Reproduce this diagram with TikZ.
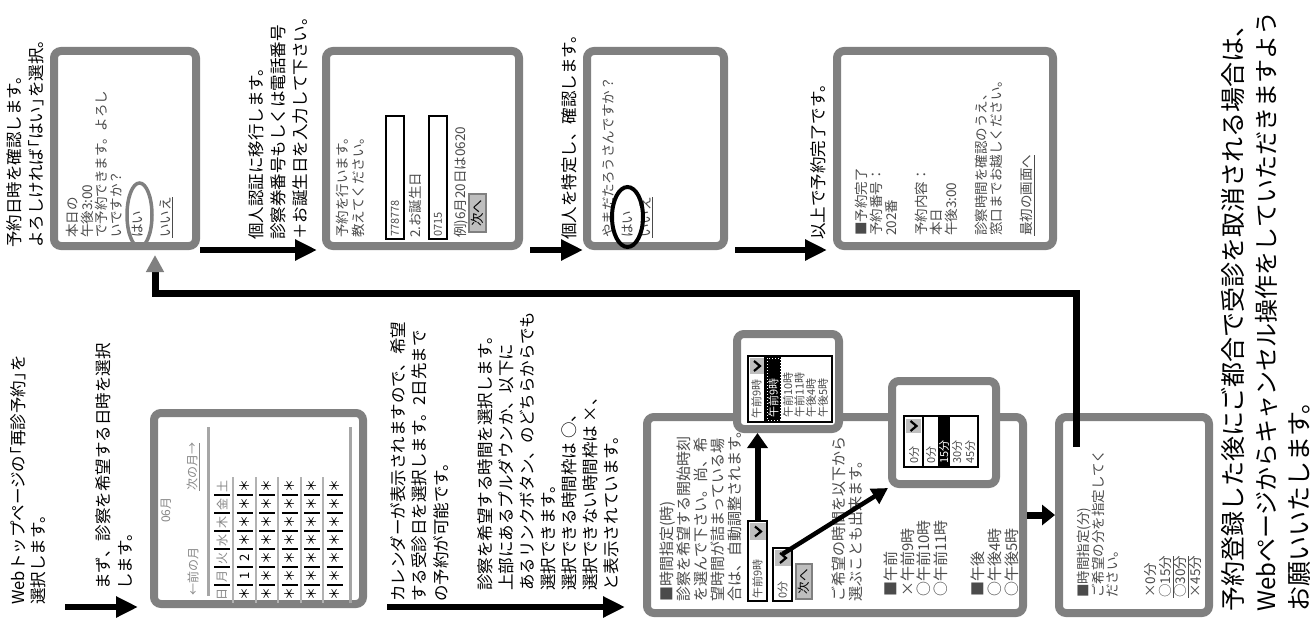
\documentclass[tikz,border=0pt]{standalone}
\usepackage{fontspec}
\setmainfont{Noto Sans CJK JP}
\usetikzlibrary{arrows.meta}
\definecolor{scrgray}{RGB}{128,128,128}
\definecolor{stext}{RGB}{75,75,75}
\definecolor{ltext}{RGB}{135,135,135}
\definecolor{btngray}{RGB}{190,190,190}
\newcommand{\lbr}{\hspace{-0.45em}「}
\newcommand{\rbr}{」\hspace{-0.45em}}
\newcommand{\chevr}[2]{\draw[line width=2.2pt] (#1-3,#2-5) -- (#1+3,#2) -- (#1-3,#2+5);}
\begin{document}
\begin{tikzpicture}[x=1pt,y=-1pt,
  screen/.style={draw=scrgray,line width=8pt,rounded corners=7pt,fill=white,inner sep=0pt,outer sep=4pt,anchor=north west},
  desc/.style={rotate=90,anchor=north west,inner sep=0pt,align=left,font=\fontsize{16.5}{22}\selectfont},
  big/.style={rotate=90,anchor=north west,inner sep=0pt,align=left,font=\fontsize{25}{33}\selectfont},
  stxt/.style={rotate=90,anchor=north west,inner sep=0pt,align=left,text=stext,font=\fontsize{13.5}{15}\selectfont},
  mtxt/.style={rotate=90,anchor=north west,inner sep=0pt,align=left,text=stext,font=\fontsize{15}{16.8}\selectfont},
  one/.style={rotate=90,anchor=west,inner sep=0pt,text=stext,font=\fontsize{13.5}{15}\selectfont},
  tiny/.style={rotate=90,anchor=west,inner sep=0pt,text=stext,font=\fontsize{11}{12}\selectfont},
  cal/.style={rotate=90,inner sep=0pt,text=ltext,font=\fontsize{12}{13}\selectfont},
  cell/.style={rotate=90,inner sep=0pt,text=black,font=\fontsize{13}{14}\selectfont},
  field/.style={draw=black,line width=2.2pt,fill=white,inner sep=0pt,outer sep=0pt,anchor=north west},
  listbox/.style={draw=black,line width=1.5pt,fill=white,inner sep=0pt,outer sep=0pt,anchor=north west},
  button/.style={draw=scrgray,line width=1.8pt,fill=btngray,inner sep=0pt,outer sep=0pt,anchor=north west},
  calline/.style={draw=black!35,line width=3pt},
  arr/.style={line width=6pt,-{Triangle[length=22pt,width=20pt]}},
  arrs/.style={line width=7pt,-{Triangle[length=13pt,width=20pt]}},
  parr/.style={line width=6pt,-{Triangle[length=15pt,width=20pt]}},
  darr/.style={line width=4.5pt,-{Triangle[length=16pt,width=17pt]}},
  ret/.style={line width=7pt,-{Triangle[length=17pt,width=17pt,color=scrgray]}}
]
\fill[white] (0,0) rectangle (1315,618);
\useasboundingbox (0,0) rectangle (1315,618);

% ---------- screens ----------
\node[screen,minimum width=142pt,minimum height=195pt] (b1) at (50,47) {};
\node[screen,minimum width=193pt,minimum height=195pt] (b2) at (322,47) {};
\node[screen,minimum width=137pt,minimum height=195pt] (b3) at (583,47) {};
\node[screen,minimum width=216pt,minimum height=195pt] (b4) at (833,47) {};
\node[screen,minimum width=209pt,minimum height=191pt] (b5) at (150,409) {};
\node[screen,minimum width=376pt,minimum height=196pt] (b6) at (643,413) {};
\node[screen,minimum width=150pt,minimum height=196pt] (b7) at (1055,413) {};

% ---------- descriptions ----------
\node[desc] (t1) at (6,248) {予約日時を確認します。\\よろしければ\lbr はい\rbr を選択。};
\node[desc] (t2) at (248,240) {個人認証に移行します。\\診察券番号もしくは電話番号\\＋お誕生日を入力して下さい。};
\node[desc] (t3) at (561,240) {個人を特定し、確認します。};
\node[desc] (t4) at (810,240) {以上で予約完了です。};
\node[desc,font=\fontsize{16.5}{20}\selectfont] (t5) at (10,605) {Webトップページの\lbr 再診予約\rbr を\\選択します。};
\node[desc] (t6) at (95,590) {まず、診察を希望する日時を選択\\します。};
\node[desc,font=\fontsize{16.5}{21.5}\selectfont] (t7) at (390,602) {カレンダーが表示されますので、希望\\する受診日を選択します。2日先まで\\の予約が可能です。};
\node[desc,font=\fontsize{16.5}{21}\selectfont] (t8) at (477,591) {診察を希望する時間を選択します。\\上部にあるプルダウンか、以下に\\あるリンクボタン、のどちらからでも\\選択できます。\\選択できる時間枠は ○、\\選択できない時間枠は ×、\\と表示されています。};
\node[big] (t9) at (1221,612) {予約登録した後にご都合で受診を取消される場合は、\\{\fontsize{24}{33}\selectfont Webページからキャンセル操作をしていただきますよう}\\お願いいたします。};

% ---------- screen 1 : confirm ----------
\node[stxt,font=\fontsize{13.5}{14.5}\selectfont] (s1) at (66,238) {本日の\\午後3:00\\で予約できます。よろし\\いですか？};
\node[one] (s1y) at (137.5,238) {はい};
\node[one] (s1n) at (166,238) {\underline{いいえ}};
\draw[scrgray,line width=3.5pt] (139.5,215) ellipse [x radius=12.5,y radius=32];

% ---------- screen 2 : auth ----------
\node[stxt,font=\fontsize{13.5}{15.5}\selectfont] (s2) at (336,238) {予約を行います。\\教えてください。};
\node[field,minimum width=18pt,minimum height=123pt] (f1) at (386,116) {};
\node[tiny] at (395,237) {778778};
\node[one] (s2b) at (415,238) {2.お誕生日};
\node[field,minimum width=18pt,minimum height=123pt] (f2) at (429,116) {};
\node[tiny] at (438,237) {0715};
\node[one] (s2e) at (461,238) {例)6月20日は0620};
\node[button,minimum width=17pt,minimum height=38pt] (n1) at (469,194) {};
\node[one,anchor=center,text=black] at (n1.center) {次へ};

% ---------- screen 3 : identify ----------
\node[one] (s3) at (608,238) {やまだたろうさんですか？};
\node[one] (s3y) at (628,238) {はい};
\node[one] (s3n) at (646,238) {\underline{いいえ}};
\draw[black,line width=4pt] (627.5,217) ellipse [x radius=15.5,y radius=30];

% ---------- screen 4 : done ----------
\node[stxt] (s4) at (855,236) {■予約完了\\予約番号：\\202番\\[15pt]予約内容：\\本日\\午後3:00\\[15pt]診察時間を確認のうえ、\\窓口までお越しください。\\[15pt]\underline{最初の画面へ}};

% ---------- screen 5 : calendar ----------
\node[cal] at (166,510) {06月};
\node[cal,anchor=west] at (193,596) {←前の月};
\node[cal,anchor=west] at (193,491) {\underline{次の月→}};
\draw[calline] (208,427) -- (208,596);
\draw[calline] (350,427) -- (350,603);
\foreach \gx in {233,256,278,301,323} \draw[black!30,line width=1.2pt] (\gx,477) -- (\gx,603);
\foreach \cx in {222,244.5,267,289.5,312,334.5}
  \foreach \i in {0,...,5} \draw[line width=2.8pt] (\cx-8,585-18*\i) -- (\cx+8,585-18*\i);
\foreach \d [count=\i from 0] in {日,月,火,水,木,金,土} \node[cal] at (222,594-18*\i) {\d};
\foreach \d [count=\i from 0] in {＊,1,2,＊,＊,＊,＊} \node[cell] at (244.5,594-18*\i) {\d};
\foreach \cx in {267,289.5,312,334.5}
  \foreach \i in {0,...,6} \node[cell] at (\cx,594-18*\i) {＊};

% ---------- screen 6 : hour ----------
\node[mtxt] (s6a) at (660,602) {■時間指定(時)\\診察を希望する開始時刻\\を選んで下さい。尚、希\\望時間が詰まっている場\\合は、自動調整されます。};
\node[field,minimum width=19pt,minimum height=80pt] (dd1) at (748,521) {};
\fill[btngray] (750,523) rectangle (765.5,540);
\chevr{758}{531.5}
\node[tiny] at (757.5,599) {午前9時};
\node[field,minimum width=19pt,minimum height=53pt] (dd2) at (773,548) {};
\fill[btngray] (775,550) rectangle (790.5,566);
\chevr{783}{558}
\node[tiny] at (782.5,599) {0分};
\node[button,minimum width=16pt,minimum height=35pt] (n2) at (796,564) {};
\node[one,anchor=center,text=black,font=\fontsize{12.5}{13}\selectfont] at (n2.center) {次へ};
\node[mtxt] (s6b) at (832,602) {ご希望の時間を以下から\\選ぶことも出来ます。};
\node[mtxt] (s6c) at (883.5,597) {■午前\\×午前9時\\○午前10時\\○午前11時};
\node[mtxt] (s6d) at (971,597) {■午後\\○午後4時\\○午後5時};

% ---------- popup A ----------
\node[screen,minimum width=102pt,minimum height=95pt] (pA) at (733,330) {};
\node[listbox,minimum width=84pt,minimum height=66pt] (lA) at (748,356) {};
\fill[btngray] (750,358) rectangle (763.5,374);
\chevr{757}{366}
\node[tiny] at (756.5,419) {午前9時};
\draw[line width=1.2pt] (765,356) -- (765,422);
\fill[black] (766,357) rectangle (781,421);
\draw[white,dotted,line width=1pt] (767,358) rectangle (780,420);
\node[tiny,text=white] at (773.5,418) {午前9時};
\node[tiny] at (788,418) {午前10時};
\node[tiny] at (799.5,418) {午前11時};
\node[tiny] at (811,418) {午後4時};
\node[tiny] at (823,418) {午後5時};

% ---------- popup B ----------
\node[screen,minimum width=104pt,minimum height=103pt] (pB) at (888,377) {};
\node[listbox,minimum width=74pt,minimum height=51pt] (lB) at (904,416) {};
\fill[btngray] (906,419) rectangle (921,433);
\chevr{913.5}{426}
\node[tiny] at (914,464) {0分};
\draw[line width=1.2pt] (923,416) -- (923,467);
\node[tiny] at (931,464) {0分};
\fill[black] (938,417) rectangle (950,466);
\node[tiny,text=white] at (944,464) {15分};
\node[tiny] at (957,464) {30分};
\node[tiny] at (970,464) {45分};

% ---------- screen 7 : minute ----------
\node[stxt,font=\fontsize{13.5}{14.5}\selectfont] (s7a) at (1077,598) {■時間指定(分)\\ご希望の分を指定してく\\ださい。};
\node[stxt] (s7b) at (1144,598) {×0分\\\underline{○15分}\\\underline{○30分}\\×45分};

% ---------- connectors ----------
\draw[arr,shorten >=5pt] (b1.south east) -- (b2.south west);
\draw[arr,shorten <=7pt] (b2.south east) -- (b3.south west);
\draw[arr,shorten <=7pt,shorten >=6pt] (b3.south east) -- (b4.south west);
\coordinate (st) at (65,607);
\draw[arr,shorten >=12pt] (st) -- (st -| b5.west);
\draw[arr,shorten <=20pt,shorten >=18pt] (b5.east |- st) -- (b6.west |- st);
\draw[arrs] (b6.east) -- (b7.west);
\draw[parr] (dd1.north) -- (dd1.north |- pA.south);
\draw[darr] ([yshift=-6pt]dd2.north) -- (pB.south west);
\coordinate (r0) at (1076,447);
\coordinate (r1) at (155,293);
\coordinate (r2) at (155,255);
\draw[ret] (r0) |- (r1) -- (r2);
\end{tikzpicture}
\end{document}
